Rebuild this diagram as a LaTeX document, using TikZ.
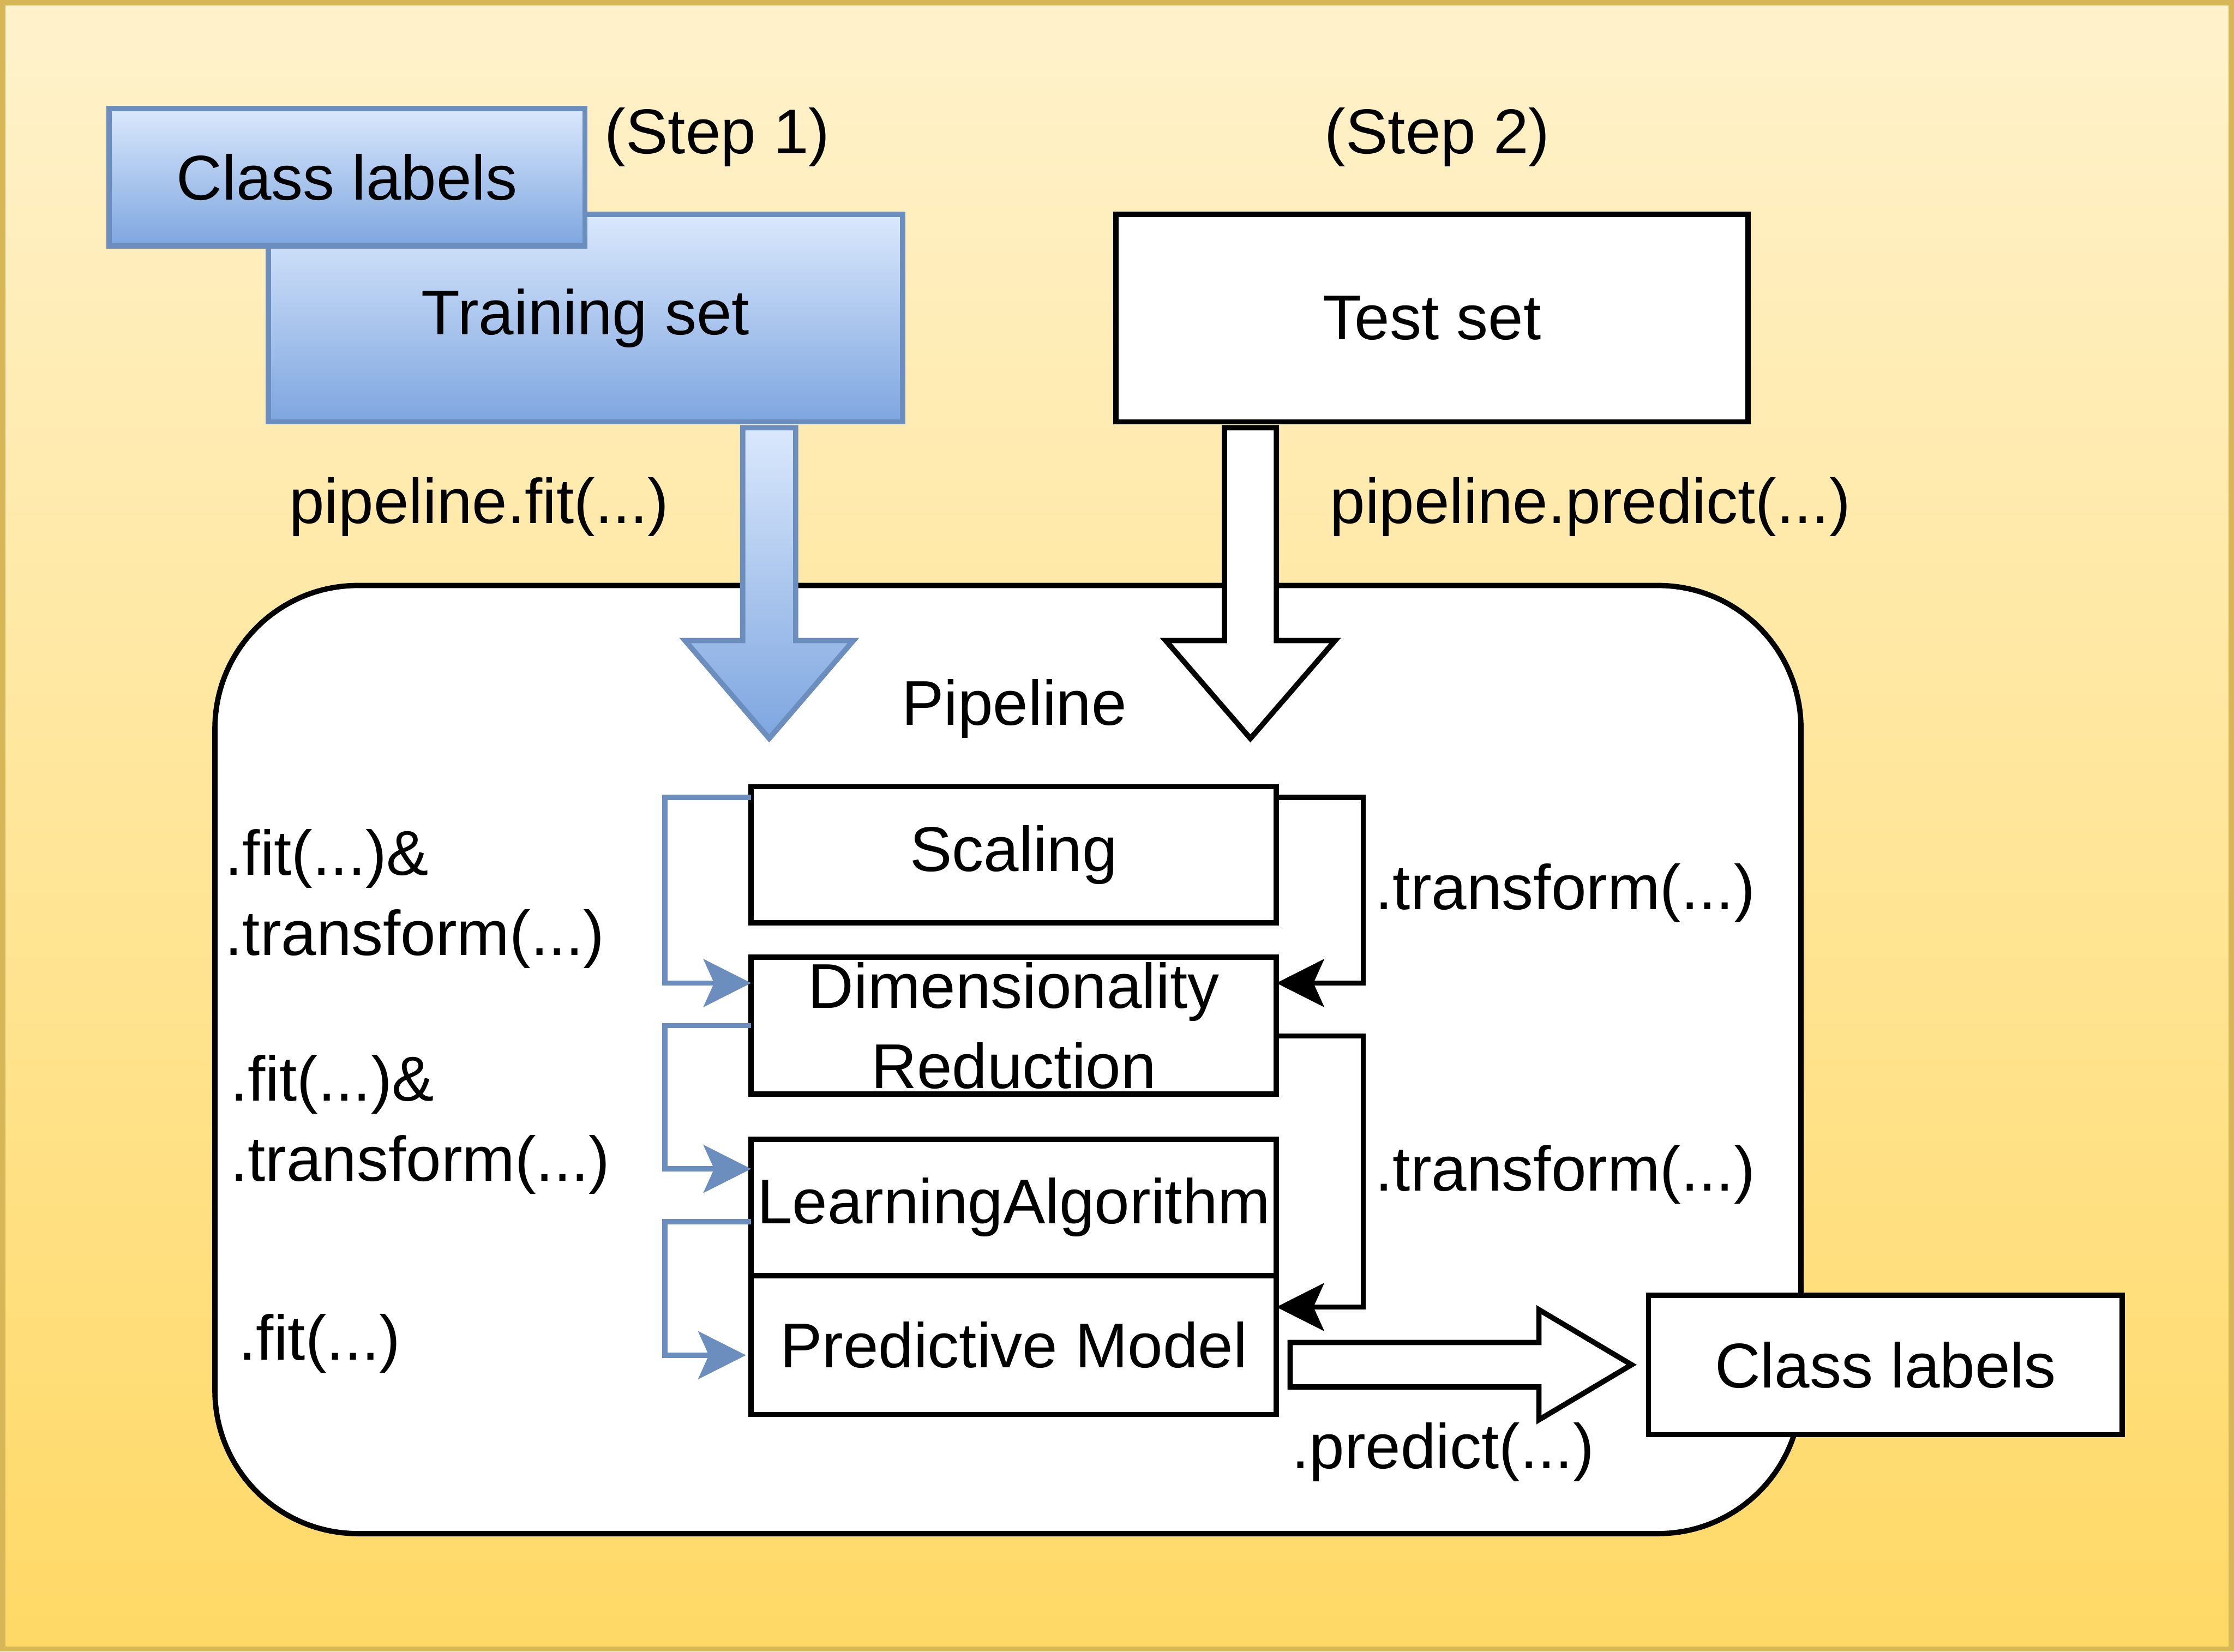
\documentclass[tikz,border=0pt]{standalone}
\usepackage{fontspec}
\setmainfont{Liberation Sans}
\usetikzlibrary{positioning,arrows.meta}

\definecolor{bgtop}{HTML}{FFF2CC}
\definecolor{bgbottom}{HTML}{FFD966}
\definecolor{bgline}{HTML}{D6B656}
\definecolor{lightblue}{HTML}{DAE8FC}
\definecolor{midblue}{HTML}{7EA6E0}
\definecolor{fitblue}{HTML}{6C8EBF}

\begin{document}
\begin{tikzpicture}[x=1cm,y=-1cm,line width=0.1cm,
    font=\fontsize{34}{43}\selectfont,
    box/.style={draw=black,fill=white,inner sep=0pt,outer sep=0pt,align=center},
    bluebox/.style={draw=fitblue,top color=lightblue,bottom color=midblue,inner sep=0pt,outer sep=0pt},
    lbl/.style={inner sep=0pt},
    fitarrow/.style={draw=fitblue,-{Stealth[length=0.9cm,width=0.9cm,inset=0.2cm]}},
    trarrow/.style={draw=black,-{Stealth[length=0.9cm,width=0.9cm,inset=0.2cm]}},
    bigarrow/.style={draw=black,fill=white,line join=miter}]

    \useasboundingbox (0,0) rectangle (42.2,31.2);
    \draw[draw=bgline,top color=bgtop,bottom color=bgbottom] (0.05,0.05) rectangle (42.15,31.15);

    % data
    \node[bluebox,minimum width=11.98cm,minimum height=3.92cm] (train) at (11.06,6.01) {Training set};
    \node[bluebox,minimum width=8.99cm,minimum height=2.6cm] (clsin) at (6.555,3.35) {Class labels};
    \node[box,minimum width=11.94cm,minimum height=3.92cm] (test) at (27.05,6.01) {Test set};
    \node[lbl,anchor=base] (step1) at (13.55,2.90) {(Step 1)};
    \node[lbl,anchor=base] (step2) at (27.15,2.90) {(Step 2)};
    \node[lbl,anchor=base] (pfit) at (9.05,9.89) {pipeline.fit(...)};
    \node[lbl,anchor=base] (ppredict) at (30.04,9.89) {pipeline.predict(...)};

    % pipeline
    \node[box,rounded corners=2.7cm,minimum width=29.96cm,minimum height=17.91cm] (pipe) at (19.04,20.015) {};
    \node[lbl,anchor=base] (pipename) at (19.16,13.70) {Pipeline};

    \draw[draw=fitblue,top color=lightblue,bottom color=midblue,line join=miter]
        (14.03,8.08) -- (14.03,12.1) -- (12.94,12.1) -- (14.53,13.95) -- (16.12,12.1)
        -- (15.03,12.1) -- (15.03,8.08) -- cycle;
    \draw[bigarrow] (23.13,8.08) -- (23.13,12.1) -- (22.02,12.1) -- (23.62,13.95) -- (25.22,12.1)
        -- (24.11,12.1) -- (24.11,8.08) -- cycle;

    \node[box,minimum width=9.92cm,minimum height=2.57cm] (scal) at (19.15,16.145) {Scaling};
    \node[box,minimum width=9.92cm,minimum height=2.59cm] (dim) at (19.15,19.375) {Dimensionality\\Reduction};
    \node[box,minimum width=9.92cm,minimum height=2.58cm] (learn) at (19.15,22.81) {LearningAlgorithm};
    \node[box,minimum width=9.92cm,minimum height=2.62cm] (pred) at (19.15,25.41) {Predictive Model};

    % fit steps
    \draw[fitarrow] ([yshift=-0.2cm]scal.north west) -- ++(-1.63,0) |- ([yshift=-0.49cm]dim.north west);
    \draw[fitarrow] (dim.west) -- ++(-1.63,0) |- ([yshift=-0.56cm]learn.north west);
    \draw[fitarrow,shorten >=0.1cm] ([yshift=-1.56cm]learn.north west) -- ++(-1.63,0) |- ([yshift=-1.5cm]pred.north west);
    \node[lbl,anchor=base west,align=left] (fit1) at (4.20,18.04) {.fit(...)\&\\.transform(...)};
    \node[lbl,anchor=base west,align=left] (fit2) at (4.30,22.31) {.fit(...)\&\\.transform(...)};
    \node[lbl,anchor=base west] (fit3) at (4.46,25.69) {.fit(...)};

    % transform steps
    \draw[trarrow] ([yshift=-0.2cm]scal.north east) -- ++(1.64,0) |- ([yshift=-0.49cm]dim.north east);
    \draw[trarrow] ([yshift=-1.49cm]dim.north east) -- ++(1.64,0) |- ([yshift=-0.59cm]pred.north east);
    \node[lbl,anchor=base west] (tr1) at (25.93,17.18) {.transform(...)};
    \node[lbl,anchor=base west] (tr2) at (25.93,22.50) {.transform(...)};

    % prediction
    \node[box,minimum width=8.95cm,minimum height=2.63cm] (clsout) at (35.615,25.785) {Class labels};
    \draw[bigarrow] (24.37,25.36) -- (29.07,25.36) -- (29.07,24.74) -- (30.82,25.78) -- (29.07,26.82)
        -- (29.07,26.2) -- (24.37,26.2) -- cycle;
    \node[lbl,anchor=base west] (plbl) at (24.35,27.74) {.predict(...)};

\end{tikzpicture}
\end{document}
